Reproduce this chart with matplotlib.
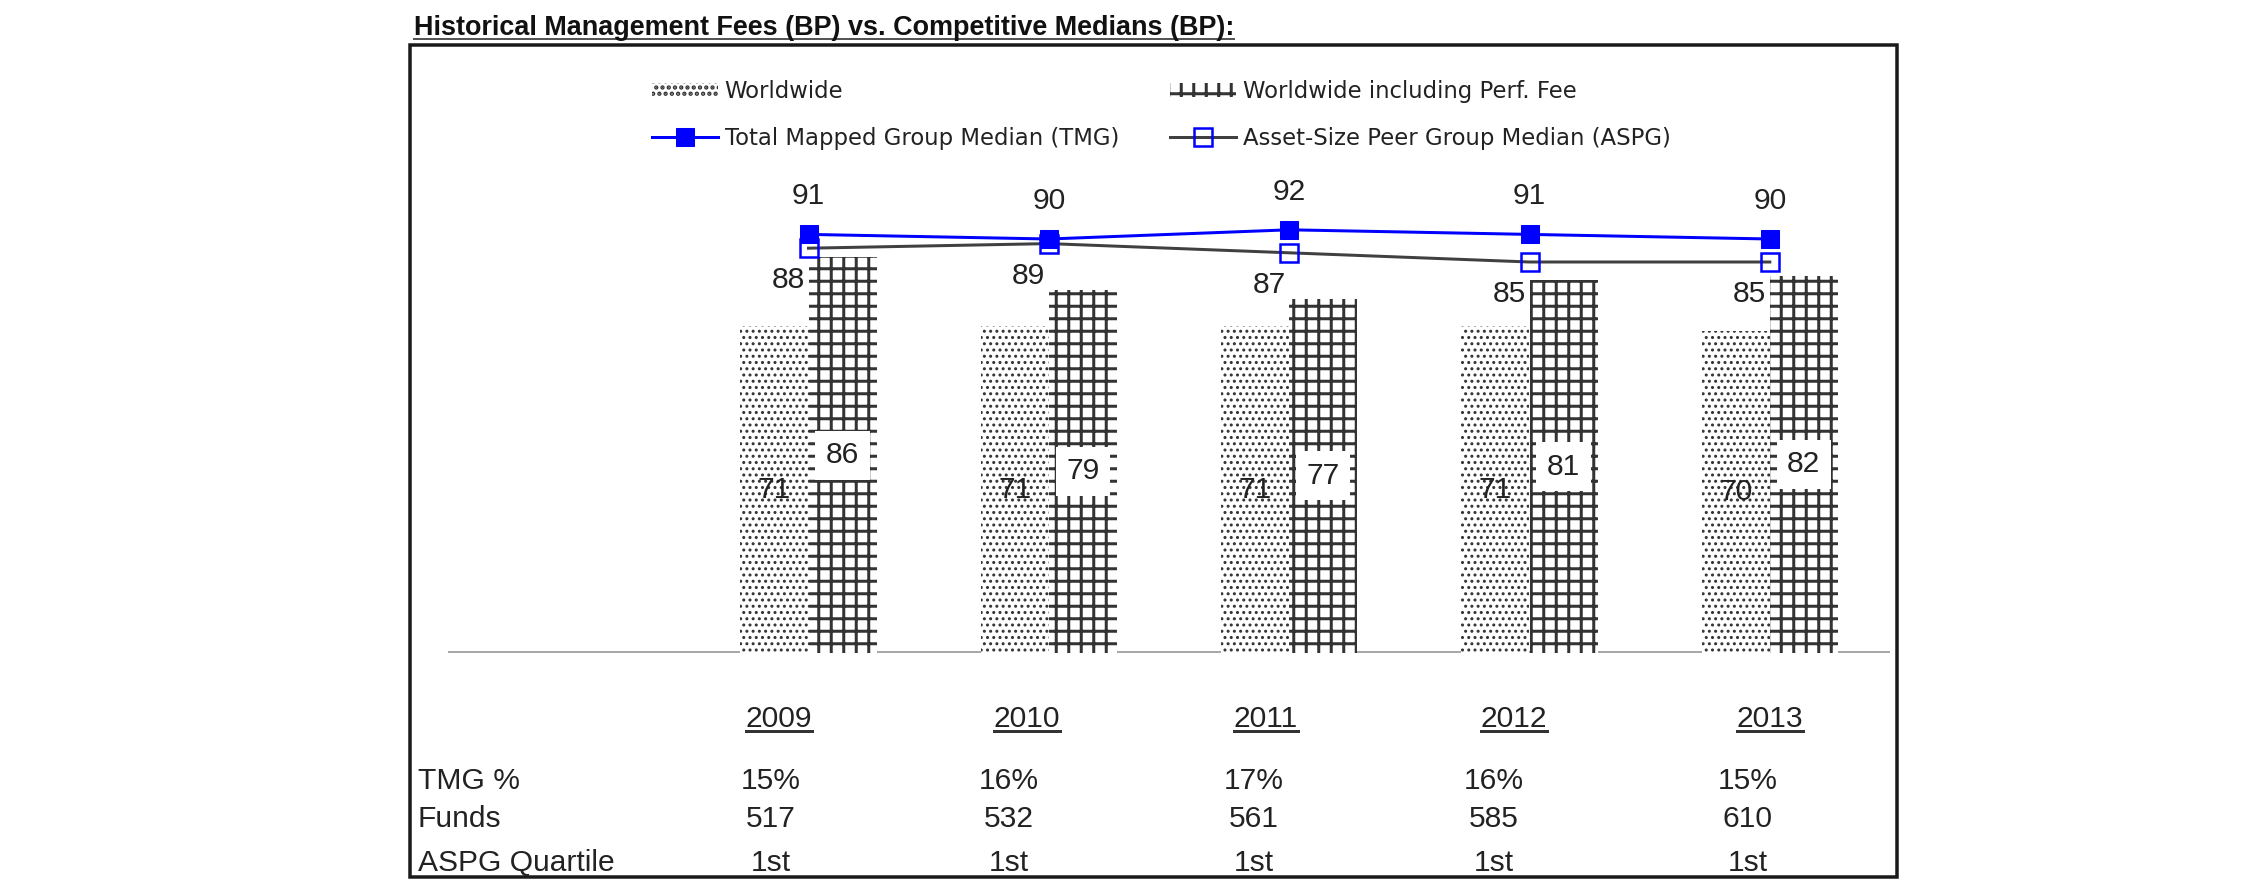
import matplotlib
matplotlib.use('Agg')
import matplotlib.pyplot as plt
import numpy as np
from matplotlib.lines import Line2D
from matplotlib.patches import Rectangle

# ---------------- data ----------------
years = ['2009', '2010', '2011', '2012', '2013']
worldwide = [71, 71, 71, 71, 70]
worldwide_perf = [86, 79, 77, 81, 82]
tmg_median = [91, 90, 92, 91, 90]
aspg_median = [88, 89, 87, 85, 85]
row_labels = ['TMG %', 'Funds', 'ASPG Quartile']
tmg_pct = ['15%', '16%', '17%', '16%', '15%']
funds = ['517', '532', '561', '585', '610']
aspg_quartile = ['1st', '1st', '1st', '1st', '1st']
title = 'Historical Management Fees (BP) vs. Competitive Medians (BP):'

# ---------------- layout (pixels of the 2250x895 canvas) ----------------
W, H, DPI = 2250, 895, 75
def fx(px): return px / W
def fy(py): return 1 - py / H
def pt(px): return px * 72.0 / DPI

year_x = [779, 1027, 1266, 1514, 1770]
value_x = [771, 1009, 1254, 1494, 1748]
row_y = [789, 827, 871]

TXT = '#222222'
HATCH = '#333333'

plt.rcParams['font.family'] = ['Liberation Sans', 'DejaVu Sans']
fig = plt.figure(figsize=(W / DPI, H / DPI), dpi=DPI)
fig.patch.set_facecolor('white')

ax = fig.add_axes([fx(448), fy(653), fx(1890) - fx(448), fy(101) - fy(653)])
ax.set_xlim(-1.5, 4.5)
ax.set_ylim(0, 120)
ax.axis('off')

x = np.arange(len(years))
bw = 0.283


def set_hlw(container, lw):
    for p in container.patches:
        if hasattr(p, 'set_hatch_linewidth'):
            p.set_hatch_linewidth(lw)


plt.rcParams['hatch.linewidth'] = pt(1.8)
b1 = ax.bar(x - bw, worldwide, width=bw, align='edge', color='white',
            edgecolor=HATCH, linewidth=0, hatch='..', zorder=2)
set_hlw(b1, pt(1.8))
plt.rcParams['hatch.linewidth'] = pt(3.0)
b2 = ax.bar(x, worldwide_perf, width=bw, align='edge', color='white',
            edgecolor=HATCH, linewidth=0, hatch='+', zorder=2)
set_hlw(b2, pt(3.0))

ax.axhline(0, color='#a8a8a8', lw=pt(5), zorder=1)

for i in range(len(years)):
    ax.text(x[i] - bw / 2, worldwide[i] / 2, str(worldwide[i]), ha='center',
            va='center', fontsize=pt(30), color=TXT, zorder=3)
    ax.text(x[i] + bw / 2, worldwide_perf[i] / 2, str(worldwide_perf[i]),
            ha='center', va='center', fontsize=pt(30), color=TXT, zorder=3,
            bbox=dict(boxstyle='square,pad=0.35', facecolor='white',
                      edgecolor='none'))

aspg_line, = ax.plot(x, aspg_median, color='#404040', lw=pt(3), marker='s',
                     ms=pt(18), mfc='none', mec='#0000ff', mew=pt(2.5),
                     zorder=4)
tmg_line, = ax.plot(x, tmg_median, color='#0000ff', lw=pt(3), marker='s',
                    ms=pt(18), mfc='#0000ff', mec='#0000ff', zorder=5)

for i in range(len(years)):
    ax.annotate(str(tmg_median[i]), (x[i], tmg_median[i]),
                xytext=(0, pt(38)), textcoords='offset points',
                ha='center', va='center', fontsize=pt(30), color=TXT)
    ax.annotate(str(aspg_median[i]), (x[i], aspg_median[i]),
                xytext=(pt(-20), pt(-32)), textcoords='offset points',
                ha='center', va='center', fontsize=pt(30), color=TXT,
                zorder=6)

# legends (two columns, rows aligned)
leg_kw = dict(loc='upper left', frameon=False,
              prop=dict(family='DejaVu Sans', size=pt(22.7)),
              handlelength=2.9, handleheight=0.6, handletextpad=0.3,
              labelspacing=1.05, borderpad=0, borderaxespad=0,
              labelcolor=TXT)
fig.legend([b1, tmg_line], ['Worldwide', 'Total Mapped Group Median (TMG)'],
           bbox_to_anchor=(fx(652), fy(80)), **leg_kw)
fig.legend([b2, aspg_line], ['Worldwide including Perf. Fee',
                             'Asset-Size Peer Group Median (ASPG)'],
           bbox_to_anchor=(fx(1170), fy(80)), **leg_kw)

# outer frame
fig.add_artist(Rectangle((fx(410), fy(877)), fx(1897) - fx(410),
                         fy(45) - fy(877), transform=fig.transFigure,
                         fill=False, edgecolor='#1a1a1a', lw=pt(3.5)))

# title
t_title = fig.text(fx(414), fy(35), title, ha='left', va='baseline',
                   fontsize=pt(27), fontweight='bold', color='#111111')

# table
year_texts = []
for i, y in enumerate(years):
    year_texts.append(fig.text(fx(year_x[i]), fy(727), y, ha='center',
                               va='baseline', fontsize=pt(30), color=TXT))
rows = [tmg_pct, funds, aspg_quartile]
for r, lab in enumerate(row_labels):
    fig.text(fx(418), fy(row_y[r]), lab, ha='left', va='baseline',
             fontsize=pt(30), color=TXT)
    for i in range(len(years)):
        fig.text(fx(value_x[i]), fy(row_y[r]), rows[r][i], ha='center',
                 va='baseline', fontsize=pt(30), color=TXT)

# underlines
fig.canvas.draw()
r = fig.canvas.get_renderer()
inv = fig.transFigure.inverted()
def underline(txt, ypx, lw, color):
    bb = txt.get_window_extent(r)
    x0 = inv.transform((bb.x0, 0))[0]
    x1 = inv.transform((bb.x1, 0))[0]
    fig.add_artist(Line2D([x0, x1], [fy(ypx), fy(ypx)], color=color,
                          lw=pt(lw), transform=fig.transFigure))
underline(t_title, 39, 2, '#555555')
for t in year_texts:
    underline(t, 731, 3, '#333333')

fig.savefig('out.png', dpi=DPI, facecolor='white')
